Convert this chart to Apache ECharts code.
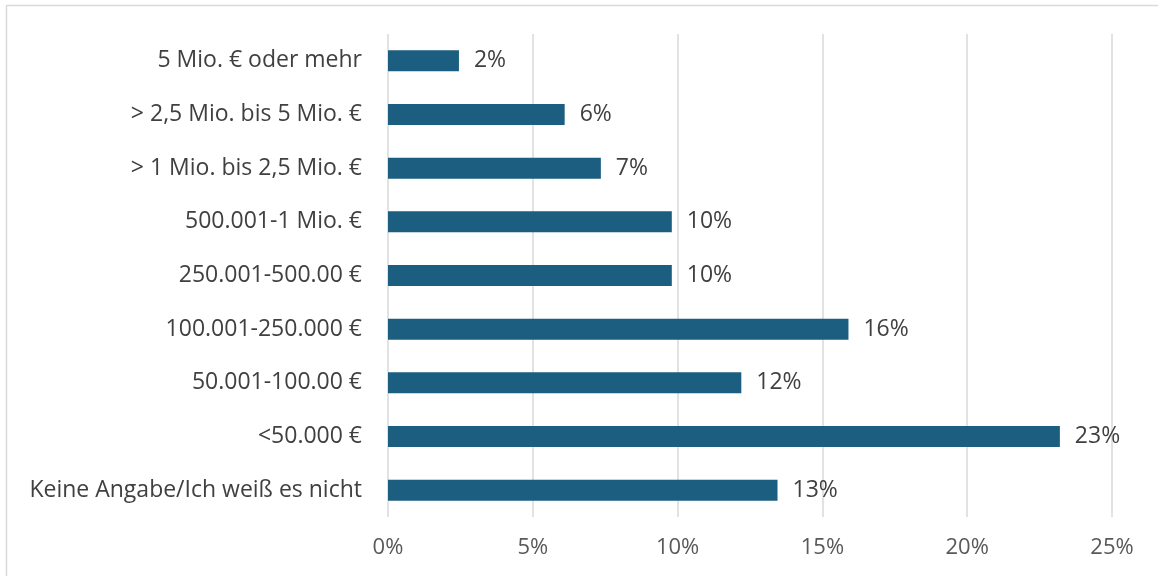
<!DOCTYPE html>
<html>
<head>
<meta charset="utf-8">
<script src="https://cdn.jsdelivr.net/npm/echarts@6/dist/echarts.min.js"></script>
<style>
  html, body { margin: 0; padding: 0; background: #ffffff; }
  #chart { width: 1158px; height: 576px; }
</style>
</head>
<body>
<div id="chart"></div>
<script>
// Revenue bands, listed top to bottom as shown
const categories = [
  '5 Mio. € oder mehr',
  '> 2,5 Mio. bis 5 Mio. €',
  '> 1 Mio. bis 2,5 Mio. €',
  '500.001-1 Mio. €',
  '250.001-500.00 €',
  '100.001-250.000 €',
  '50.001-100.00 €',
  '<50.000 €',
  'Keine Angabe/Ich weiß es nicht'
];

// Share of respondents per band, in percent
const shares = [2.45, 6.1, 7.35, 9.8, 9.8, 15.9, 12.2, 23.2, 13.45];

// Axis ticks (percent)
const xTicks = [0, 5, 10, 15, 20, 25];

const FONT = 'Open Sans';
const TEXT = '#404040';
const AXIS_TEXT = '#595959';
const BAR = '#1b5e80';
const GRID = '#d9d9d9';

const chart = echarts.init(document.getElementById('chart'), null, { renderer: 'canvas' });

chart.setOption({
  animation: false,
  backgroundColor: '#ffffff',
  graphic: [{
    type: 'rect',
    shape: { x: 6.5, y: 5.5, width: 1200, height: 600 },
    style: { fill: 'none', stroke: GRID, lineWidth: 1.5 },
    silent: true,
    z: -1
  }],
  grid: { left: 388, right: 46, top: 34, bottom: 59, containLabel: false },
  xAxis: {
    type: 'value',
    min: xTicks[0],
    max: xTicks[xTicks.length - 1],
    interval: xTicks[1] - xTicks[0],
    axisLine: { show: false },
    axisTick: { show: false },
    splitLine: { show: true, lineStyle: { color: GRID, width: 1.5 } },
    axisLabel: {
      formatter: v => v + '%',
      color: AXIS_TEXT,
      fontFamily: FONT,
      fontSize: 22,
      margin: 20
    }
  },
  yAxis: {
    type: 'category',
    data: categories,
    inverse: true,
    axisLine: { show: false },
    axisTick: { show: false },
    splitLine: { show: false },
    axisLabel: {
      color: TEXT,
      fontFamily: FONT,
      fontSize: 23,
      margin: 26
    }
  },
  series: [{
    type: 'bar',
    data: shares,
    barWidth: 21,
    itemStyle: { color: BAR },
    label: {
      show: true,
      position: 'right',
      distance: 15,
      formatter: p => Math.round(p.value) + '%',
      color: TEXT,
      fontFamily: FONT,
      fontSize: 23
    }
  }]
});
</script>
</body>
</html>
